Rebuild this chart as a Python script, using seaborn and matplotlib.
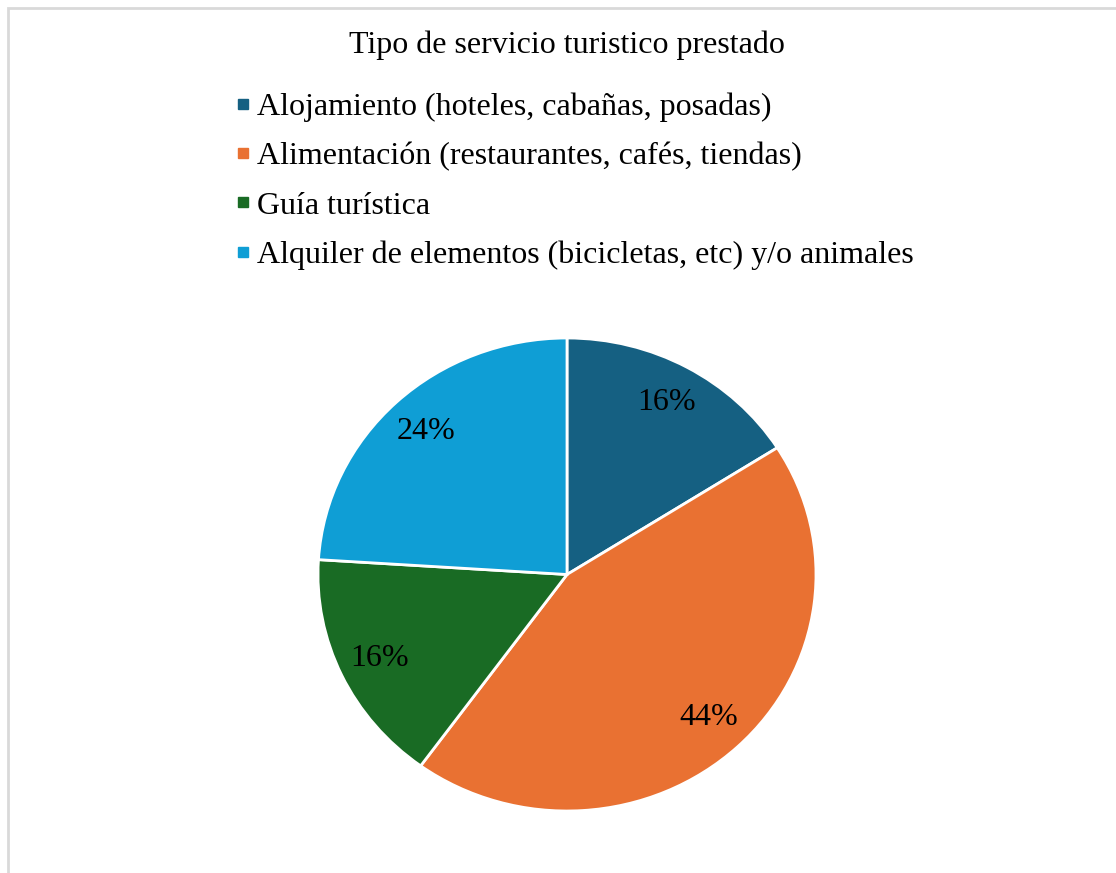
import matplotlib
matplotlib.use("Agg")
import matplotlib.pyplot as plt
from matplotlib.lines import Line2D
from matplotlib.patches import Rectangle
import seaborn as sns

# data
services = [
    "Alojamiento (hoteles, cabañas, posadas)",
    "Alimentación (restaurantes, cafés, tiendas)",
    "Guía turística",
    "Alquiler de elementos (bicicletas, etc) y/o animales",
]
shares = [16, 44, 16, 24]
colors = ["#156082", "#E97132", "#196B24", "#0F9ED5"]
title = "Tipo de servicio turistico prestado"

sns.set_theme(style="white")
plt.rcParams["font.family"] = ["Liberation Serif", "DejaVu Serif"]
plt.rcParams["text.color"] = "black"

W, H = 1116, 873
fig = plt.figure(figsize=(W / 100, H / 100), dpi=100)

# light frame, cut off at right and bottom like the reference
fig.patches.append(Rectangle((8 / W, -0.05), 1.2, 1 - 8 / H + 0.05,
                             transform=fig.transFigure, fill=False,
                             edgecolor="#d9d9d9", linewidth=2))

ax = fig.add_axes([318 / W, (H - 811) / H, 498 / W, 473 / H])
wedges, _, autotexts = ax.pie(
    shares, colors=colors, startangle=90, counterclock=False,
    autopct="%1.0f%%", pctdistance=0.83,
    wedgeprops={"edgecolor": "white", "linewidth": 2},
    textprops={"fontsize": 23, "color": "black"},
)
ax.set_aspect("auto")
ax.set_xlim(-1, 1)
ax.set_ylim(-1, 1)

fig.text(567 / W, 1 - 45 / H, title, ha="center", va="center",
         fontsize=23, color="black")

handles = [Line2D([], [], marker="s", linestyle="none", markersize=7,
                  markerfacecolor=c, markeredgecolor=c) for c in colors]
leg = fig.legend(handles, services, loc="upper left",
                 bbox_to_anchor=(222 / W, 1 - 80 / H), frameon=False,
                 fontsize=23, handlelength=0.5, handletextpad=0.2,
                 labelspacing=0.62, borderaxespad=0)
for t in leg.get_texts():
    t.set_color("black")

fig.savefig("out.png", dpi=100)
